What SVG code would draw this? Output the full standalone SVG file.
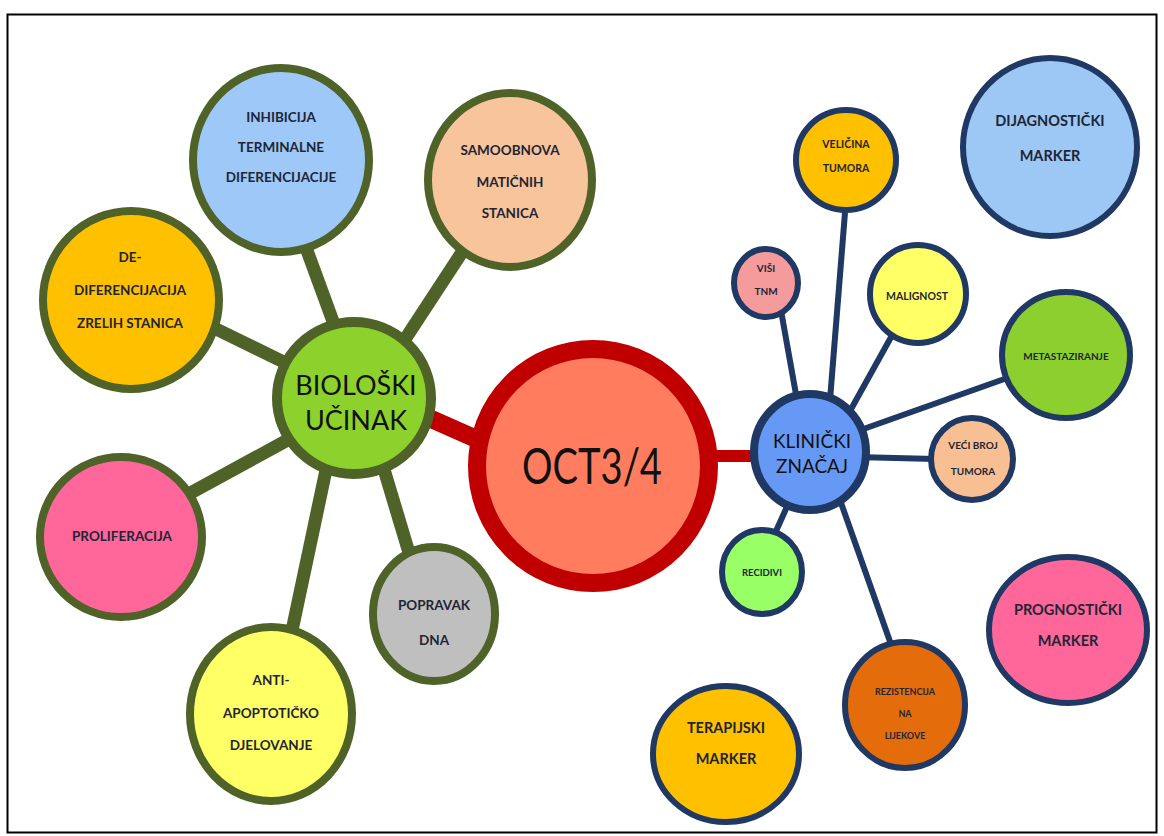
<svg xmlns="http://www.w3.org/2000/svg" width="1164" height="836" viewBox="0 0 1164 836">
<style>
.t{font-family:Lato,"Open Sans","Liberation Sans",sans-serif;fill:#1e2535;text-anchor:middle;dominant-baseline:central;font-weight:700}
.big{font-weight:400;fill:#111}
.ol{stroke:#4F6228;stroke-width:8}
.nv{stroke:#1F3864;stroke-width:6}
.cl{stroke:#4F6228;stroke-width:13;fill:none}
.cr{stroke:#1F3864;stroke-width:6;fill:none}
.rd{stroke:#C00000;fill:none}
</style>
<rect x="0" y="0" width="1164" height="836" fill="#fff"/>
<rect x="7.5" y="14.5" width="1149" height="818" fill="none" stroke="#000" stroke-width="2"/>
<g id="connectors">
<line class="rd" x1="420" y1="414" x2="490" y2="445" stroke-width="18"/>
<line class="rd" x1="710" y1="456" x2="760" y2="456" stroke-width="12"/>
<line class="cl" x1="338" y1="335" x2="305" y2="245"/>
<line class="cl" x1="398" y1="350" x2="470" y2="240"/>
<line class="cl" x1="300" y1="370" x2="210" y2="326"/>
<line class="cl" x1="295" y1="436" x2="185" y2="496"/>
<line class="cl" x1="326" y1="470" x2="290" y2="640"/>
<line class="cl" x1="383" y1="466" x2="413" y2="566"/>
<line class="cr" x1="830" y1="400" x2="846" y2="200"/>
<line class="cr" x1="797" y1="400" x2="780" y2="305"/>
<line class="cr" x1="845" y1="420" x2="895" y2="330"/>
<line class="cr" x1="855" y1="432" x2="1010" y2="377"/>
<line class="cr" x1="855" y1="457" x2="935" y2="459"/>
<line class="cr" x1="790" y1="500" x2="772" y2="540"/>
<line class="cr" x1="840" y1="500" x2="893" y2="650"/>
</g>
<g id="oct">
<ellipse cx="593" cy="466" rx="116" ry="117" fill="#FF7D5E" stroke="#C00000" stroke-width="18"/>
<text class="t big" x="592" y="465" font-size="50" textLength="140" lengthAdjust="spacingAndGlyphs">OCT3/4</text>
</g>
<g id="bio">
<ellipse cx="354" cy="398" rx="77" ry="76" fill="#8DD22C" stroke="#4F6228" stroke-width="10"/>
<text class="t big" x="356" y="384" font-size="27">BIOLOŠKI</text>
<text class="t big" x="356" y="419" font-size="27">UČINAK</text>
</g>
<g id="inhibicija">
<ellipse class="ol" cx="281" cy="160" rx="88" ry="92" fill="#9DC8F7"/>
<text class="t" x="281" y="117" font-size="13.5">INHIBICIJA</text>
<text class="t" x="281" y="147" font-size="13.5">TERMINALNE</text>
<text class="t" x="281" y="177" font-size="13.5">DIFERENCIJACIJE</text>
</g>
<g id="samoobnova">
<ellipse class="ol" cx="510" cy="180" rx="82" ry="87" fill="#F8C49C"/>
<text class="t" x="510" y="150" font-size="13.5">SAMOOBNOVA</text>
<text class="t" x="510" y="182" font-size="13.5">MATIČNIH</text>
<text class="t" x="510" y="213" font-size="13.5">STANICA</text>
</g>
<g id="dediferencijacija">
<ellipse class="ol" cx="131" cy="300" rx="88" ry="89" fill="#FFC000"/>
<text class="t" x="130" y="257" font-size="13.5">DE-</text>
<text class="t" x="130" y="290" font-size="13.5">DIFERENCIJACIJA</text>
<text class="t" x="130" y="323" font-size="13.5">ZRELIH STANICA</text>
</g>
<g id="proliferacija">
<ellipse class="ol" cx="121" cy="537" rx="81" ry="80" fill="#FF6699"/>
<text class="t" x="122" y="536" font-size="13.5">PROLIFERACIJA</text>
</g>
<g id="antiapoptoticko">
<ellipse class="ol" cx="271" cy="714" rx="81" ry="87" fill="#FFFF66"/>
<text class="t" x="271" y="680" font-size="13.5">ANTI-</text>
<text class="t" x="271" y="713" font-size="13.5">APOPTOTIČKO</text>
<text class="t" x="271" y="745" font-size="13.5">DJELOVANJE</text>
</g>
<g id="popravak">
<ellipse class="ol" cx="434" cy="614" rx="61" ry="67" fill="#BFBFBF"/>
<text class="t" x="434" y="605" font-size="13.5">POPRAVAK</text>
<text class="t" x="434" y="640" font-size="13.5">DNA</text>
</g>
<g id="klinicki">
<ellipse cx="810" cy="452" rx="56" ry="58" fill="#6699F5" stroke="#1F3864" stroke-width="8"/>
<text class="t big" x="812" y="440" font-size="19">KLINIČKI</text>
<text class="t big" x="812" y="465" font-size="19">ZNAČAJ</text>
</g>
<g id="velicina">
<ellipse class="nv" cx="846" cy="160" rx="50" ry="50" fill="#FFC000"/>
<text class="t" x="846" y="144" font-size="10.5">VELIČINA</text>
<text class="t" x="846" y="168" font-size="10.5">TUMORA</text>
</g>
<g id="dijagnosticki">
<ellipse class="nv" cx="1050" cy="147" rx="87" ry="89" fill="#9DC8F5"/>
<text class="t" x="1050" y="120" font-size="14.5">DIJAGNOSTIČKI</text>
<text class="t" x="1050" y="155" font-size="14.5">MARKER</text>
</g>
<g id="visi">
<ellipse class="nv" cx="766" cy="283" rx="32" ry="34" fill="#F59B9B"/>
<text class="t" x="766" y="268" font-size="10">VIŠI</text>
<text class="t" x="766" y="291" font-size="10">TNM</text>
</g>
<g id="malignost">
<ellipse class="nv" cx="918" cy="294" rx="48" ry="49" fill="#FFFF66"/>
<text class="t" x="917" y="296" font-size="10.5">MALIGNOST</text>
</g>
<g id="metastaziranje">
<ellipse class="nv" cx="1066" cy="355" rx="64" ry="63" fill="#8DCF2E"/>
<text class="t" x="1066" y="356" font-size="10">METASTAZIRANJE</text>
</g>
<g id="veci">
<ellipse class="nv" cx="972" cy="459" rx="41" ry="41" fill="#F8C092"/>
<text class="t" x="973" y="445" font-size="10">VEĆI BROJ</text>
<text class="t" x="973" y="471" font-size="10">TUMORA</text>
</g>
<g id="recidivi">
<ellipse class="nv" cx="762" cy="572" rx="40" ry="42" fill="#99FF66"/>
<text class="t" x="762" y="572" font-size="9.5">RECIDIVI</text>
</g>
<g id="rezistencija">
<ellipse class="nv" cx="905" cy="705" rx="60" ry="63" fill="#E46C0A"/>
<text class="t" x="905" y="691" font-size="9">REZISTENCIJA</text>
<text class="t" x="905" y="713" font-size="9">NA</text>
<text class="t" x="905" y="735" font-size="9">LIJEKOVE</text>
</g>
<g id="prognosticki">
<ellipse class="nv" cx="1068" cy="630" rx="79" ry="73" fill="#FF6699"/>
<text class="t" x="1068" y="609" font-size="14.5">PROGNOSTIČKI</text>
<text class="t" x="1068" y="640" font-size="14.5">MARKER</text>
</g>
<g id="terapijski">
<ellipse class="nv" cx="726" cy="754" rx="73" ry="68" fill="#FFC000"/>
<text class="t" x="726" y="727" font-size="14.5">TERAPIJSKI</text>
<text class="t" x="726" y="758" font-size="14.5">MARKER</text>
</g>
</svg>
